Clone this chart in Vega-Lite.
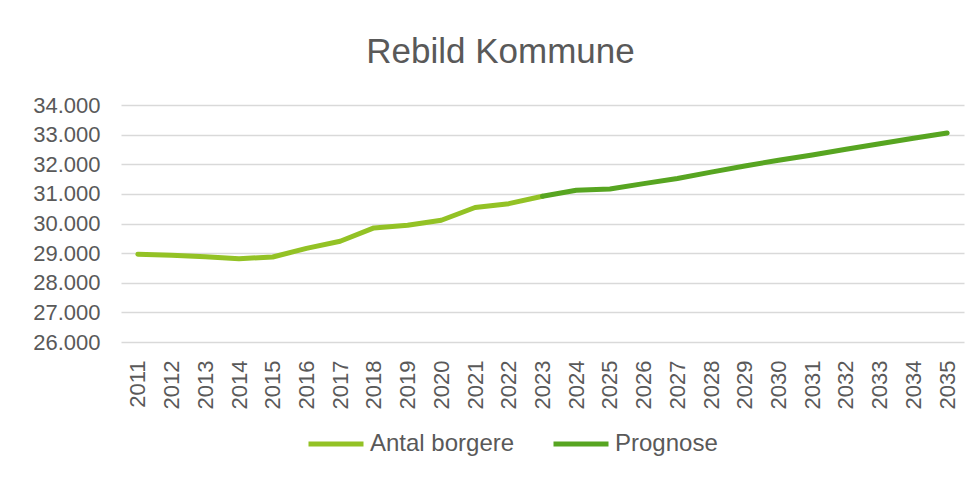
{
  "$schema": "https://vega.github.io/schema/vega-lite/v6.json",
  "width": 843,
  "height": 237,
  "autosize": {"type": "none"},
  "padding": {"left": 121, "top": 105, "right": 11, "bottom": 137},
  "background": "white",
  "config": {
    "locale": {"number": {"decimal": ",", "thousands": ".", "grouping": [3], "currency": ["", " kr."]}},
    "view": {"stroke": null},
    "font": "Liberation Sans"
  },
  "title": {
    "text": "Rebild Kommune",
    "fontSize": 35,
    "fontWeight": "normal",
    "color": "#595959",
    "font": "Liberation Sans",
    "dx": -42,
    "dy": 38,
    "offset": 34,
    "baseline": "alphabetic"
  },
  "data": {
    "values": [
      {"year": "2011", "value": 28960, "series": "Antal borgere"},
      {"year": "2012", "value": 28930, "series": "Antal borgere"},
      {"year": "2013", "value": 28875, "series": "Antal borgere"},
      {"year": "2014", "value": 28810, "series": "Antal borgere"},
      {"year": "2015", "value": 28870, "series": "Antal borgere"},
      {"year": "2016", "value": 29160, "series": "Antal borgere"},
      {"year": "2017", "value": 29400, "series": "Antal borgere"},
      {"year": "2018", "value": 29850, "series": "Antal borgere"},
      {"year": "2019", "value": 29940, "series": "Antal borgere"},
      {"year": "2020", "value": 30110, "series": "Antal borgere"},
      {"year": "2021", "value": 30540, "series": "Antal borgere"},
      {"year": "2022", "value": 30670, "series": "Antal borgere"},
      {"year": "2023", "value": 30920, "series": "Antal borgere"},
      {"year": "2023", "value": 30920, "series": "Prognose"},
      {"year": "2024", "value": 31120, "series": "Prognose"},
      {"year": "2025", "value": 31165, "series": "Prognose"},
      {"year": "2026", "value": 31345, "series": "Prognose"},
      {"year": "2027", "value": 31520, "series": "Prognose"},
      {"year": "2028", "value": 31735, "series": "Prognose"},
      {"year": "2029", "value": 31940, "series": "Prognose"},
      {"year": "2030", "value": 32135, "series": "Prognose"},
      {"year": "2031", "value": 32315, "series": "Prognose"},
      {"year": "2032", "value": 32505, "series": "Prognose"},
      {"year": "2033", "value": 32690, "series": "Prognose"},
      {"year": "2034", "value": 32875, "series": "Prognose"},
      {"year": "2035", "value": 33055, "series": "Prognose"}
    ]
  },
  "mark": {"type": "line", "strokeWidth": 5, "strokeCap": "round", "strokeJoin": "round"},
  "encoding": {
    "x": {
      "field": "year",
      "type": "ordinal",
      "scale": {"padding": 0.5},
      "axis": {
        "title": null,
        "labelAngle": 270,
        "labelAlign": "right",
        "labelBaseline": "middle",
        "labelFontSize": 22,
        "labelColor": "#595959",
        "labelPadding": 18,
        "ticks": false,
        "tickSize": 0,
        "domain": false,
        "grid": false
      }
    },
    "y": {
      "field": "value",
      "type": "quantitative",
      "scale": {"domain": [26000, 34000], "nice": false, "zero": false},
      "axis": {
        "title": null,
        "values": [26000, 27000, 28000, 29000, 30000, 31000, 32000, 33000, 34000],
        "format": ",.0f",
        "labelFontSize": 22,
        "labelColor": "#595959",
        "labelPadding": 21,
        "ticks": false,
        "tickSize": 0,
        "domain": false,
        "grid": true,
        "gridColor": "#d9d9d9",
        "gridWidth": 1.5
      }
    },
    "color": {
      "field": "series",
      "type": "nominal",
      "scale": {"domain": ["Antal borgere", "Prognose"], "range": ["#93c225", "#57a521"]},
      "legend": {
        "title": null,
        "orient": "none",
        "direction": "horizontal",
        "legendX": 185,
        "legendY": 309,
        "symbolType": "stroke",
        "symbolSize": 3025,
        "symbolStrokeWidth": 5,
        "labelFontSize": 24,
        "labelColor": "#595959",
        "labelOffset": 4,
        "columnPadding": 28
      }
    }
  }
}
